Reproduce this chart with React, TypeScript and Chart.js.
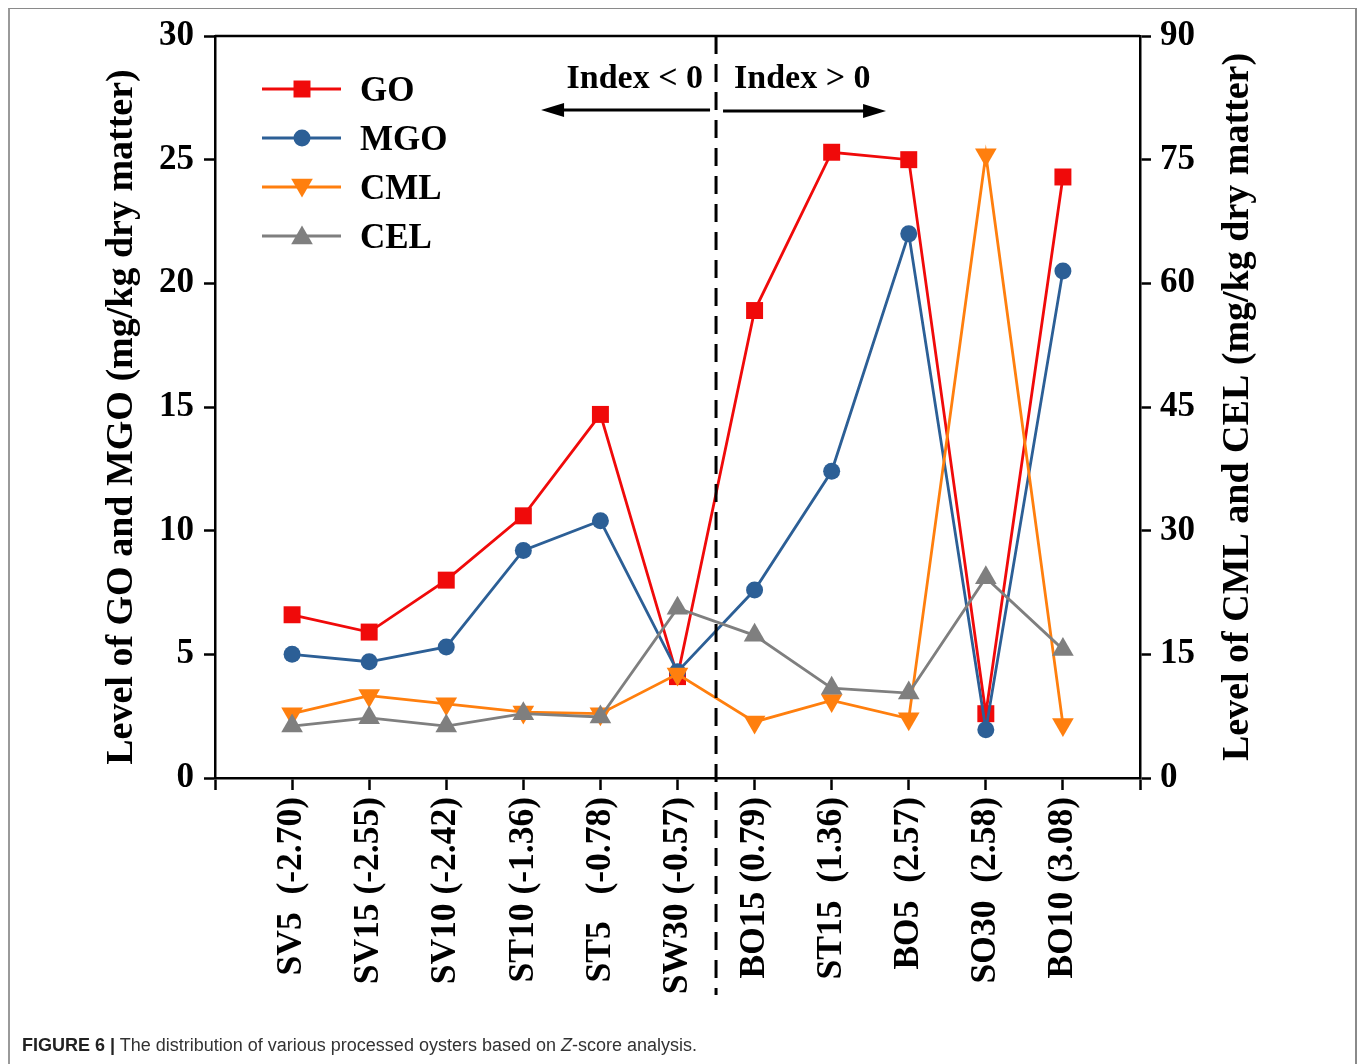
import React, { useEffect, useRef } from "react";
import { Chart, registerables } from "chart.js";

Chart.register(...registerables);

// ---- data ----
const categories = [
  "SV5  (-2.70)",
  "SV15 (-2.55)",
  "SV10 (-2.42)",
  "ST10 (-1.36)",
  "ST5   (-0.78)",
  "SW30 (-0.57)",
  "BO15 (0.79)",
  "ST15  (1.36)",
  "BO5  (2.57)",
  "SO30  (2.58)",
  "BO10 (3.08)",
];
const goValues = [6.6, 5.9, 8.0, 10.6, 14.7, 4.1, 18.9, 25.3, 25.0, 2.6, 24.3];
const mgoValues = [5.0, 4.7, 5.3, 9.2, 10.4, 4.3, 7.6, 12.4, 22.0, 1.95, 20.5];
const cmlValues = [7.8, 10.0, 9.0, 8.0, 7.8, 12.6, 6.8, 9.4, 7.2, 75.6, 6.5];
const celValues = [6.3, 7.3, 6.3, 7.8, 7.4, 20.6, 17.3, 10.9, 10.3, 24.3, 15.6];
const leftTicks = [0, 5, 10, 15, 20, 25, 30];
const rightTicks = [0, 15, 30, 45, 60, 75, 90];

const SERIF = "'Liberation Serif', 'Times New Roman', serif";
const RED = "#f00a0a";
const BLUE = "#2c5f96";
const ORANGE = "#ff7f0e";
const GRAY = "#7f7f7f";

const labels = ["", ...categories, ""];
const pad = (arr: number[]) => [null, ...arr, null];

function drawMarker(ctx: CanvasRenderingContext2D, style: string, x: number, y: number, r: number, color: string, rot = 0) {
  ctx.save();
  ctx.fillStyle = color;
  ctx.beginPath();
  if (style === "rect") {
    const s = Math.SQRT1_2 * r;
    ctx.rect(x - s, y - s, 2 * s, 2 * s);
  } else if (style === "circle") {
    ctx.arc(x, y, r, 0, Math.PI * 2);
  } else {
    const a = (rot * Math.PI) / 180;
    for (let k = 0; k < 3; k++) {
      const ang = a + (k * 2 * Math.PI) / 3;
      const px = x + Math.sin(ang) * r;
      const py = y - Math.cos(ang) * r;
      if (k === 0) ctx.moveTo(px, py);
      else ctx.lineTo(px, py);
    }
    ctx.closePath();
  }
  ctx.fill();
  ctx.restore();
}

const legendItems = [
  { label: "GO", color: RED, style: "rect", r: 12, rot: 0 },
  { label: "MGO", color: BLUE, style: "circle", r: 8.5, rot: 0 },
  { label: "CML", color: ORANGE, style: "triangle", r: 12.5, rot: 180 },
  { label: "CEL", color: GRAY, style: "triangle", r: 12.5, rot: 0 },
];

const decorPlugin = {
  id: "decor",
  afterDraw(chart: any) {
    const { ctx, chartArea, scales } = chart;
    ctx.save();
    // top frame line
    ctx.strokeStyle = "#000";
    ctx.lineWidth = 2.5;
    ctx.beginPath();
    ctx.moveTo(chartArea.left, chartArea.top);
    ctx.lineTo(chartArea.right, chartArea.top);
    ctx.stroke();

    // dashed divider between SW30 and BO15
    const xd = scales.x.getPixelForValue(6.5);
    ctx.setLineDash([18, 10]);
    ctx.lineWidth = 3;
    ctx.beginPath();
    ctx.moveTo(xd, chartArea.top);
    ctx.lineTo(xd, 995);
    ctx.stroke();
    ctx.setLineDash([]);

    // Index texts
    ctx.fillStyle = "#000";
    ctx.font = `bold 34px ${SERIF}`;
    ctx.textBaseline = "alphabetic";
    ctx.textAlign = "right";
    ctx.fillText("Index < 0", xd - 13, 88);
    ctx.textAlign = "left";
    ctx.fillText("Index > 0", xd + 18, 88);

    // arrows
    const ay = 110;
    ctx.lineWidth = 3;
    ctx.beginPath();
    ctx.moveTo(xd - 6, ay);
    ctx.lineTo(xd - 160, ay);
    ctx.moveTo(xd + 7, ay + 1);
    ctx.lineTo(xd + 156, ay + 1);
    ctx.stroke();
    ctx.beginPath();
    ctx.moveTo(xd - 175, ay);
    ctx.lineTo(xd - 152, ay - 7);
    ctx.lineTo(xd - 152, ay + 7);
    ctx.closePath();
    ctx.fill();
    ctx.beginPath();
    ctx.moveTo(xd + 170, ay + 1);
    ctx.lineTo(xd + 147, ay - 6);
    ctx.lineTo(xd + 147, ay + 8);
    ctx.closePath();
    ctx.fill();

    // legend
    legendItems.forEach((it, i) => {
      const y = 89 + i * 49;
      ctx.strokeStyle = it.color;
      ctx.lineWidth = 2.8;
      ctx.beginPath();
      ctx.moveTo(262, y);
      ctx.lineTo(341, y);
      ctx.stroke();
      drawMarker(ctx, it.style, 302, it.style === "triangle" ? y + (it.rot ? -2 : 2) : y, it.r, it.color, it.rot);
      ctx.fillStyle = "#000";
      ctx.font = `bold 35px ${SERIF}`;
      ctx.textAlign = "left";
      ctx.textBaseline = "middle";
      ctx.fillText(it.label, 360, y + 3);
    });

    // axis titles (both read bottom-to-top)
    ctx.font = `bold 38px ${SERIF}`;
    ctx.textAlign = "center";
    ctx.textBaseline = "middle";
    ctx.fillStyle = "#000";
    const cy = (chartArea.top + chartArea.bottom) / 2;
    ctx.save();
    ctx.translate(122, cy + 10);
    ctx.rotate(-Math.PI / 2);
    ctx.fillText("Level of GO and MGO (mg/kg dry matter)", 0, 0);
    ctx.restore();
    ctx.save();
    ctx.translate(1238, cy);
    ctx.rotate(-Math.PI / 2);
    ctx.fillText("Level of CML and CEL (mg/kg dry matter)", 0, 0);
    ctx.restore();
    ctx.restore();
  },
};

export default function App() {
  const ref = useRef<HTMLCanvasElement | null>(null);
  useEffect(() => {
    if (!ref.current) return;
    const yTickFont = { family: SERIF, size: 35, weight: "bold" as const };
    const xTickFont = { family: SERIF, size: 35.5, weight: "bold" as const };
    const common = {
      borderWidth: 2.8,
      pointBorderWidth: 0,
    };
    const chart = new Chart(ref.current, {
      type: "line",
      data: {
        labels,
        datasets: [
          {
            ...common,
            label: "GO",
            data: pad(goValues),
            yAxisID: "y",
            borderColor: RED,
            backgroundColor: RED,
            pointStyle: "rect",
            pointRadius: 12,
            order: 4,
          },
          {
            ...common,
            label: "MGO",
            data: pad(mgoValues),
            yAxisID: "y",
            borderColor: BLUE,
            backgroundColor: BLUE,
            pointStyle: "circle",
            pointRadius: 8.5,
            order: 3,
          },
          {
            ...common,
            label: "CML",
            data: pad(cmlValues),
            yAxisID: "y1",
            borderColor: ORANGE,
            backgroundColor: ORANGE,
            pointStyle: "triangle",
            pointRotation: 180,
            pointRadius: 12.5,
            order: 2,
          },
          {
            ...common,
            label: "CEL",
            data: pad(celValues),
            yAxisID: "y1",
            borderColor: GRAY,
            backgroundColor: GRAY,
            pointStyle: "triangle",
            pointRadius: 12.5,
            order: 1,
          },
        ],
      },
      options: {
        animation: false,
        responsive: true,
        maintainAspectRatio: false,
        spanGaps: false,
        layout: { padding: { top: 36, left: 0, right: 0, bottom: 0 } },
        plugins: {
          legend: { display: false },
          tooltip: { enabled: false },
          title: { display: false },
        },
        scales: {
          x: {
            type: "category",
            offset: false,
            border: { color: "#000", width: 2.5 },
            grid: { drawOnChartArea: false, drawTicks: true, tickLength: 12, tickColor: "#000", tickWidth: 2.5 },
            ticks: {
              autoSkip: false,
              minRotation: 90,
              maxRotation: 90,
              color: "#000",
              font: xTickFont,
              padding: 7,
            },
            afterFit: (s: any) => {
              s.height = 286;
            },
          },
          y: {
            position: "left",
            min: 0,
            max: 30,
            afterBuildTicks: (s: any) => {
              s.ticks = leftTicks.map((v) => ({ value: v }));
            },
            border: { color: "#000", width: 2.5 },
            grid: { drawOnChartArea: false, drawTicks: true, tickLength: 11, tickColor: "#000", tickWidth: 2.5 },
            ticks: { color: "#000", font: yTickFont, padding: 10 },
            afterFit: (s: any) => {
              s.width = 215;
            },
          },
          y1: {
            position: "right",
            min: 0,
            max: 90,
            afterBuildTicks: (s: any) => {
              s.ticks = rightTicks.map((v) => ({ value: v }));
            },
            border: { color: "#000", width: 2.5 },
            grid: { drawOnChartArea: false, drawTicks: true, tickLength: 11, tickColor: "#000", tickWidth: 2.5 },
            ticks: { color: "#000", font: yTickFont, padding: 9 },
            afterFit: (s: any) => {
              s.width = 218;
            },
          },
        },
      },
      plugins: [decorPlugin],
    });
    return () => chart.destroy();
  }, []);

  return (
    <>
      <div
        style={{
          position: "fixed",
          left: 8,
          top: 8,
          width: 1349,
          height: 1060,
          borderTop: "1.5px solid #8a8a8a",
          borderLeft: "2px solid #9a9a9a",
          borderRight: "2px solid #8a8a8a",
          boxSizing: "border-box",
        }}
      />
      <div style={{ position: "fixed", left: 0, top: 0, width: 1358, height: 1064 }}>
        <canvas ref={ref} />
      </div>
      <div
        style={{
          position: "fixed",
          left: 22,
          top: 1033,
          fontFamily: "'Liberation Sans', Arial, sans-serif",
          fontSize: 18,
          color: "#333",
          whiteSpace: "nowrap",
          lineHeight: "24px",
        }}
      >
        <b style={{ color: "#222" }}>FIGURE 6 |</b> The distribution of various processed oysters based on{" "}
        <i>Z</i>-score analysis.
      </div>
    </>
  );
}
